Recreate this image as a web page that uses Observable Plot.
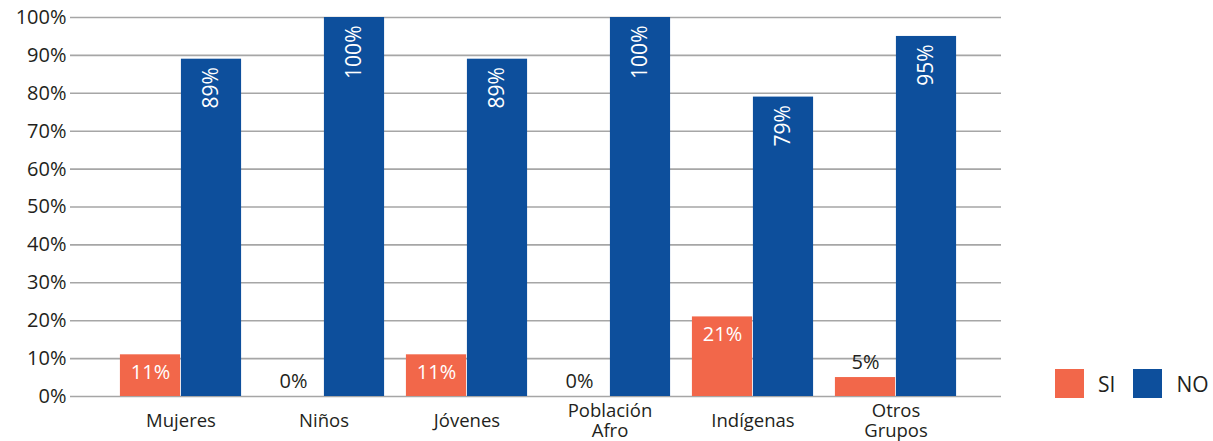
<!DOCTYPE html>
<html><head><meta charset="utf-8">
<script src="https://cdn.jsdelivr.net/npm/d3@7"></script>
<script src="https://cdn.jsdelivr.net/npm/@observablehq/plot@0.6"></script>
<style>
body{margin:0;background:#fff;font-family:"Open Sans",sans-serif;color:#231F20}
#wrap{position:relative;width:1213px;height:441px}
#legend{position:absolute;left:1055px;top:369px;display:flex;align-items:center;font-size:21px;color:#231F20}
#legend .sw{width:29px;height:29px;display:inline-block}
#legend .lab{margin-left:14px;margin-right:18px}
</style>
</head><body><div id="wrap"></div>
<script>
const categories = ["Mujeres","Niños","Jóvenes","Población\nAfro","Indígenas","Otros\nGrupos"];
const siValues = [0.11, 0.00, 0.11, 0.00, 0.21, 0.05];
const noValues = [0.89, 1.00, 0.89, 1.00, 0.79, 0.95];
const yTicks = [0,0.1,0.2,0.3,0.4,0.5,0.6,0.7,0.8,0.9,1.0];
const seriesNames = ["SI","NO"];
const seriesColors = ["#F2674A","#0D4F9C"];

const W = 1213, H = 441, mL = 106, mR = 244, mT = 17, mB = 45;
const bw = (W - mL - mR) / categories.length;
const barW = 61;
const fmt = d3.format(".0%");

const si = categories.map((c,i)=>({cat:c, value:siValues[i]}));
const no = categories.map((c,i)=>({cat:c, value:noValues[i]}));

const chart = Plot.plot({
  width: W, height: H,
  marginLeft: mL, marginRight: mR, marginTop: mT, marginBottom: mB,
  style: {fontFamily: '"Open Sans", sans-serif', color: "#231F20", background: "#fff"},
  x: {domain: categories, padding: 0, label: null},
  y: {domain: [0, 1], label: null},
  marks: [
    Plot.ruleY(yTicks, {stroke: "#a6a6a6", strokeWidth: 1.6, insetLeft: -36, insetRight: -32}),
    Plot.barY(si, {x: "cat", y: "value", fill: seriesColors[0], insetLeft: bw/2 - barW, insetRight: bw/2}),
    Plot.barY(no, {x: "cat", y: "value", fill: seriesColors[1], insetLeft: bw/2, insetRight: bw/2 - barW}),
    Plot.text(no, {x: "cat", y: "value", text: d => fmt(d.value), rotate: -90, textAnchor: "end", lineAnchor: "middle",
      dx: barW/2, dy: 8, fill: "#fff", fontSize: 21}),
    Plot.text(si.filter(d => d.value >= 0.1), {x: "cat", y: "value", text: d => fmt(d.value), lineAnchor: "middle",
      dx: -barW/2, dy: 18, fill: "#fff", fontSize: 20}),
    Plot.text(si.filter(d => d.value < 0.1), {x: "cat", y: "value", text: d => fmt(d.value), lineAnchor: "middle",
      dx: -barW/2, dy: -15, fill: "#231F20", fontSize: 20}),
    Plot.axisY({ticks: yTicks, tickFormat: fmt, tickSize: 0, tickPadding: 40, fontSize: 20, label: null}),
    Plot.axisX({tickSize: 0, tickPadding: 24, lineAnchor: "middle", lineHeight: 1.1, fontSize: 18.5, label: null})
  ]
});
const wrap = document.getElementById("wrap");
wrap.appendChild(chart);
const legend = document.createElement("div");
legend.id = "legend";
seriesNames.forEach((n,i)=>{
  const sw = document.createElement("span"); sw.className = "sw"; sw.style.background = seriesColors[i];
  const lab = document.createElement("span"); lab.className = "lab"; lab.textContent = n;
  legend.appendChild(sw); legend.appendChild(lab);
});
wrap.appendChild(legend);
</script>
</body></html>
